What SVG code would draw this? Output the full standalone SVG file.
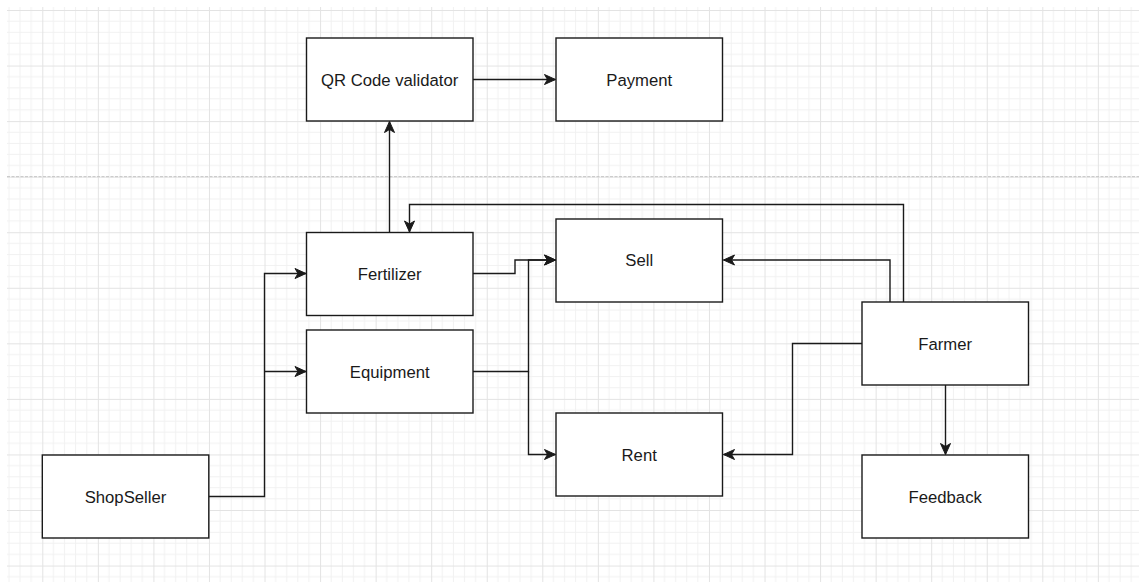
<svg xmlns="http://www.w3.org/2000/svg" width="1139" height="582" viewBox="0 0 1139 582">
  <style>
    .box { fill: #ffffff; stroke: #1a1a1a; stroke-width: 1.4; }
    .lbl { font-family: "Liberation Sans", Arial, sans-serif; font-size: 16.7px; fill: #1a1a1a; text-anchor: middle; }
    .edge { fill: none; stroke: #1a1a1a; stroke-width: 1.4; marker-end: url(#arrow); }
  </style>
  <defs>
    <pattern id="grid" patternUnits="userSpaceOnUse" x="42.3" y="10" width="55.556" height="55.556">
      <path d="M11.11,0V55.556M22.22,0V55.556M33.33,0V55.556M44.44,0V55.556M0,11.11H55.556M0,22.22H55.556M0,33.33H55.556M0,44.44H55.556" stroke="#f1f1f1" stroke-width="1" fill="none"/>
      <path d="M0.5,0V55.556M0,0.5H55.556" stroke="#e3e3e3" stroke-width="1" fill="none"/>
    </pattern>
    <marker id="arrow" markerUnits="userSpaceOnUse" markerWidth="12" markerHeight="11" refX="11" refY="5" orient="auto" overflow="visible">
      <path d="M0,0 L11,5 L0,10 L3,5 Z" fill="#1a1a1a" stroke="#1a1a1a" stroke-width="1"/>
    </marker>
  </defs>
  <rect width="1139" height="582" fill="#ffffff"/>
  <rect x="7" y="7" width="1132" height="575" fill="url(#grid)"/>
  <line x1="7" y1="176.7" x2="1139" y2="176.7" stroke="#c2c2c2" stroke-width="1" stroke-dasharray="3,1.5"/>

  <g id="connectors">
    <path class="edge" d="M389.5,232 V121.5"/>
    <path class="edge" d="M473,79.5 H555.5"/>
    <path class="edge" d="M903.5,302 V204.5 H409.5 V232"/>
    <path class="edge" d="M890,302 V260 H723.5"/>
    <path class="edge" d="M862,343.5 H792.5 V454.5 H723.5"/>
    <path class="edge" d="M945.5,385 V454.5"/>
    <path class="edge" d="M209,496.5 H264.5 V273.5 H306"/>
    <path class="edge" d="M264.5,371.5 H306"/>
    <path class="edge" d="M473,273.5 H515 V260 H555.5"/>
    <path class="edge" d="M473,371.5 H528.5 V260 H555.5"/>
    <path class="edge" d="M528.5,371.5 V454.5 H555.5"/>
  </g>

  <g id="qr">
    <rect class="box" x="306.5" y="38" width="166.5" height="83"/>
    <text class="lbl" x="389.7" y="85.5">QR Code validator</text>
  </g>
  <g id="payment">
    <rect class="box" x="556" y="38" width="166.5" height="83"/>
    <text class="lbl" x="639.2" y="85.5">Payment</text>
  </g>
  <g id="fertilizer">
    <rect class="box" x="306.5" y="232.5" width="166.5" height="83"/>
    <text class="lbl" x="389.7" y="279.5">Fertilizer</text>
  </g>
  <g id="equipment">
    <rect class="box" x="306.5" y="330" width="166.5" height="83"/>
    <text class="lbl" x="389.7" y="377.5">Equipment</text>
  </g>
  <g id="sell">
    <rect class="box" x="556" y="219" width="166.5" height="83"/>
    <text class="lbl" x="639.2" y="266">Sell</text>
  </g>
  <g id="rent">
    <rect class="box" x="556" y="413" width="166.5" height="83"/>
    <text class="lbl" x="639.2" y="460.5">Rent</text>
  </g>
  <g id="farmer">
    <rect class="box" x="862" y="302" width="166.5" height="83"/>
    <text class="lbl" x="945.2" y="349.5">Farmer</text>
  </g>
  <g id="feedback">
    <rect class="box" x="862" y="455" width="166.5" height="83"/>
    <text class="lbl" x="945.2" y="502.5">Feedback</text>
  </g>
  <g id="shopseller">
    <rect class="box" x="42.3" y="455" width="166.5" height="83"/>
    <text class="lbl" x="125.5" y="502.5">ShopSeller</text>
  </g>
</svg>
